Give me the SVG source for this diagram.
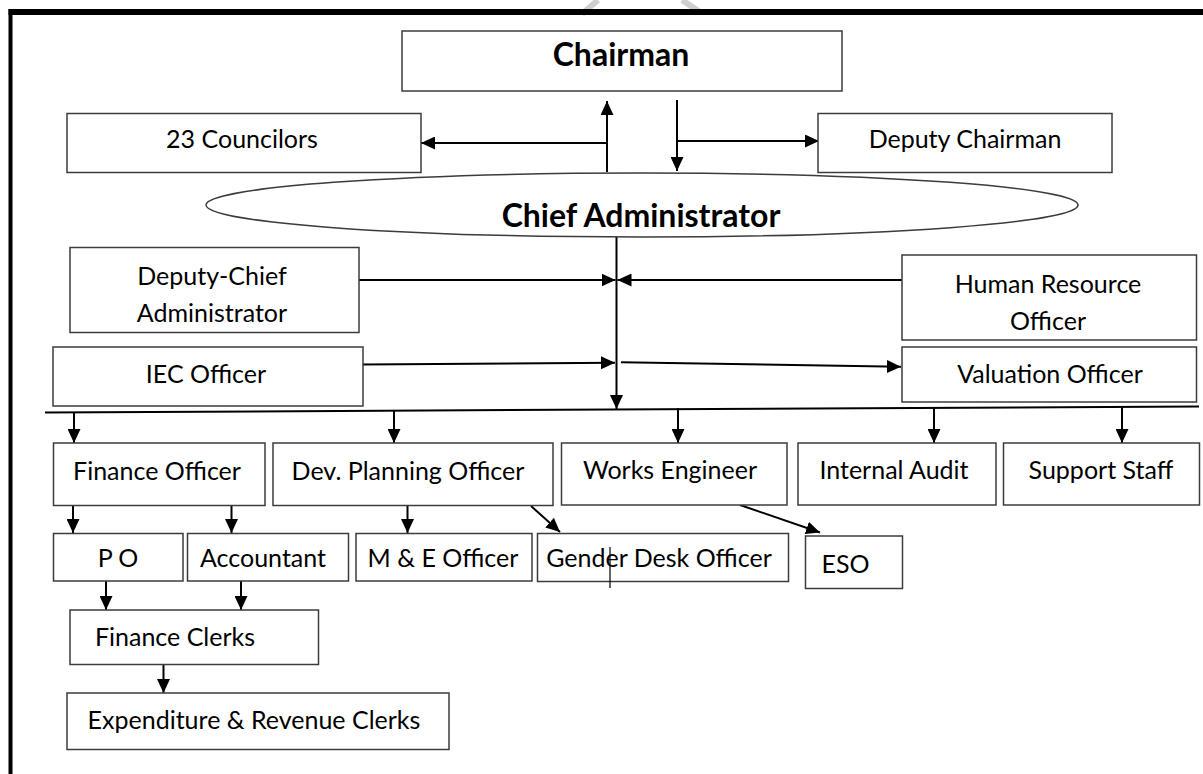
<svg xmlns="http://www.w3.org/2000/svg" width="1203" height="774" viewBox="0 0 1203 774">
  <style>
    .box { fill: #ffffff; stroke: #3c3c3c; stroke-width: 1.5; }
    .lbl { font-family: Lato, "Liberation Sans", sans-serif; font-size: 25px; fill: #000; text-anchor: middle; }
    .big { font-family: Lato, "Liberation Sans", sans-serif; font-weight: bold; font-size: 32px; fill: #000; text-anchor: middle; }
    .wire { fill: none; stroke: #000; stroke-width: 2; }
    .arrow { marker-end: url(#head); }
  </style>
  <defs>
    <marker id="head" viewBox="0 0 14 13" refX="14" refY="6.5" markerWidth="14" markerHeight="13" markerUnits="userSpaceOnUse" orient="auto">
      <path d="M0,0 L14,6.5 L0,13 Z" fill="#000"/>
    </marker>
  </defs>

  <rect width="1203" height="774" fill="#ffffff"/>

  <!-- faint watermark strokes along the top edge -->
  <path d="M582,14 L598,0 M682,0 L700,12" fill="none" stroke="#cfcfcf" stroke-width="6"/>

  <!-- page frame -->
  <g id="frame">
    <line x1="8.5" y1="12" x2="1203" y2="12" stroke="#000" stroke-width="6"/>
    <line x1="10.5" y1="9" x2="10.5" y2="774" stroke="#000" stroke-width="4"/>
  </g>

  <!-- connectors -->
  <g id="connectors">
    <line class="wire arrow" x1="607" y1="172" x2="607" y2="101"/>
    <line class="wire arrow" x1="607" y1="143" x2="421" y2="143"/>
    <line class="wire arrow" x1="677" y1="100" x2="677" y2="171"/>
    <line class="wire arrow" x1="677" y1="141" x2="819" y2="141"/>

    <line class="wire arrow" x1="616.5" y1="237" x2="616.5" y2="409"/>
    <line class="wire arrow" x1="359" y1="280" x2="615.5" y2="280"/>
    <line class="wire arrow" x1="902" y1="280" x2="617.5" y2="280"/>
    <line class="wire arrow" x1="363" y1="364.5" x2="615" y2="362.7"/>
    <line class="wire arrow" x1="621" y1="362.3" x2="901" y2="366.7"/>

    <line class="wire" x1="45" y1="412.5" x2="1199" y2="406.5" stroke-width="1.5"/>
    <line class="wire arrow" x1="74" y1="412" x2="74" y2="443"/>
    <line class="wire arrow" x1="394" y1="411" x2="394" y2="443"/>
    <line class="wire arrow" x1="678" y1="408" x2="678" y2="443"/>
    <line class="wire arrow" x1="934" y1="407.5" x2="934" y2="443"/>
    <line class="wire arrow" x1="1122" y1="407" x2="1122" y2="443"/>

    <line class="wire arrow" x1="73" y1="505" x2="73" y2="533"/>
    <line class="wire arrow" x1="231.5" y1="505" x2="231.5" y2="533"/>
    <line class="wire arrow" x1="407.5" y1="505" x2="407.5" y2="533"/>
    <line class="wire arrow" x1="531" y1="506" x2="560" y2="532"/>
    <line class="wire arrow" x1="740" y1="505" x2="820" y2="532.5"/>

    <line class="wire arrow" x1="106" y1="581" x2="106" y2="610"/>
    <line class="wire arrow" x1="241" y1="581" x2="241" y2="610"/>
    <line class="wire arrow" x1="163.5" y1="664" x2="163.5" y2="693"/>
  </g>

  <g id="chairman">
    <rect class="box" x="402" y="31" width="440" height="60"/>
    <text class="big" x="621" y="66">Chairman</text>
  </g>
  <g id="councilors">
    <rect class="box" x="67" y="113.5" width="354" height="59"/>
    <text class="lbl" x="242" y="148">23 Councilors</text>
  </g>
  <g id="deputy-chairman">
    <rect class="box" x="818" y="113.5" width="294" height="59"/>
    <text class="lbl" x="965" y="148">Deputy Chairman</text>
  </g>
  <g id="chief-administrator">
    <ellipse class="box" cx="642" cy="205" rx="436" ry="32"/>
    <text class="big" x="641" y="227">Chief Administrator</text>
  </g>
  <g id="deputy-chief">
    <rect class="box" x="70" y="247.5" width="289" height="85"/>
    <text class="lbl" x="212" y="285">Deputy-Chief</text>
    <text class="lbl" x="212" y="322">Administrator</text>
  </g>
  <g id="hr-officer">
    <rect class="box" x="902" y="255" width="294.5" height="85"/>
    <text class="lbl" x="1048" y="293">Human Resource</text>
    <text class="lbl" x="1048" y="330">Officer</text>
  </g>
  <g id="iec-officer">
    <rect class="box" x="53" y="347" width="310" height="59"/>
    <text class="lbl" x="206" y="383">IEC Officer</text>
  </g>
  <g id="valuation-officer">
    <rect class="box" x="902" y="347" width="294.5" height="55"/>
    <text class="lbl" x="1050" y="383">Valuation Officer</text>
  </g>

  <g id="finance-officer">
    <rect class="box" x="53.5" y="443" width="211.5" height="62.5"/>
    <text class="lbl" x="157" y="480">Finance Officer</text>
  </g>
  <g id="dev-planning">
    <rect class="box" x="273" y="443" width="280" height="62.5"/>
    <text class="lbl" x="408" y="480">Dev. Planning Officer</text>
  </g>
  <g id="works-engineer">
    <rect class="box" x="561.5" y="443" width="225.5" height="62"/>
    <text class="lbl" x="670" y="478.5">Works Engineer</text>
  </g>
  <g id="internal-audit">
    <rect class="box" x="798" y="443" width="198" height="62"/>
    <text class="lbl" x="894" y="478.5">Internal Audit</text>
  </g>
  <g id="support-staff">
    <rect class="box" x="1003.5" y="443" width="196" height="62"/>
    <text class="lbl" x="1101" y="478.5">Support Staff</text>
  </g>

  <g id="po">
    <rect class="box" x="53.5" y="533.5" width="129.5" height="47.5"/>
    <text class="lbl" x="118" y="567">P O</text>
  </g>
  <g id="accountant">
    <rect class="box" x="187.5" y="533.5" width="161" height="47.5"/>
    <text class="lbl" x="263" y="567">Accountant</text>
  </g>
  <g id="me-officer">
    <rect class="box" x="356" y="533.5" width="176" height="47.5"/>
    <text class="lbl" x="443" y="567">M &amp; E Officer</text>
  </g>
  <g id="gender-desk">
    <rect class="box" x="537.5" y="533.5" width="251" height="48"/>
    <text class="lbl" x="659" y="566.5">Gender Desk Officer</text>
    <line x1="610" y1="547" x2="610" y2="588" stroke="#000" stroke-width="1.2"/>
  </g>
  <g id="eso">
    <rect class="box" x="805.5" y="536" width="97" height="52.5"/>
    <text class="lbl" x="845.5" y="573">ESO</text>
  </g>

  <g id="finance-clerks">
    <rect class="box" x="70" y="610" width="248.5" height="54.5"/>
    <text class="lbl" x="175" y="646">Finance Clerks</text>
  </g>
  <g id="exp-rev-clerks">
    <rect class="box" x="67" y="693" width="382" height="56.5"/>
    <text class="lbl" x="254" y="728.5">Expenditure &amp; Revenue Clerks</text>
  </g>
</svg>
